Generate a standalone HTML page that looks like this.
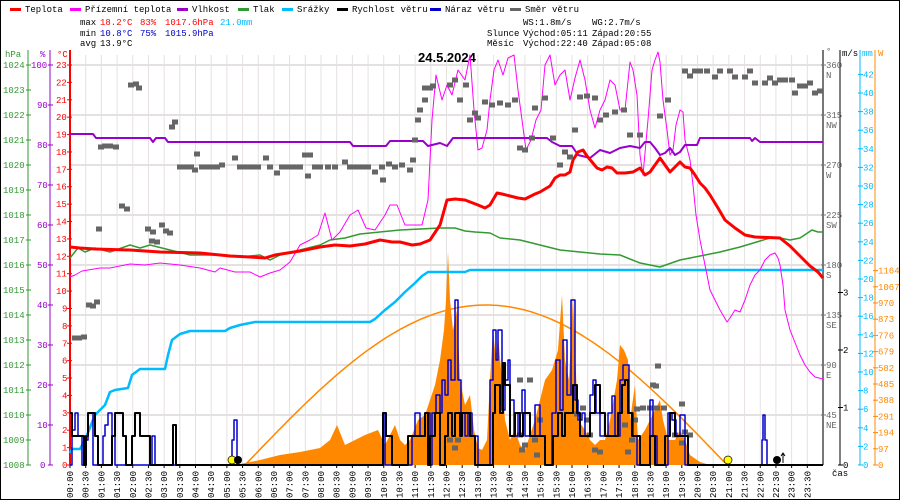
<!DOCTYPE html>
<html><head><meta charset="utf-8"><style>
html,body{margin:0;padding:0;background:#fff}
body{width:900px;height:500px;overflow:hidden}
svg{display:block}
text{font-family:"Liberation Mono",monospace;font-size:9px}
</style></head><body>
<svg id="s" width="900" height="500" xmlns="http://www.w3.org/2000/svg"></svg>
<script>
var o='';
function L(pts,c,w,extra){o+='<polyline fill="none" stroke="'+c+'" stroke-width="'+w+'" stroke-linejoin="round" '+(extra||'')+' points="'+pts.map(p=>p.join(',')).join(' ')+'"/>';}
function T(x,y,t,c,extra){o+='<text x="'+x+'" y="'+y+'" fill="'+(c||'#000')+'" '+(extra||'')+'>'+t+'</text>';}
function step(pts){var r=[];for(var i=0;i<pts.length;i++){if(i>0)r.push([pts[i][0],pts[i-1][1]]);r.push(pts[i]);}return r;}
o+='<rect x="0.5" y="0.5" width="899" height="499" fill="#fff" stroke="#000"/>';
// grid
for(var i=0;i<=48;i++){var x=70+i*753/48;o+='<line x1="'+x+'" y1="55" x2="'+x+'" y2="465" stroke="#e6e1e1"/>';}
for(var y=65;y<465;y+=50)o+='<line x1="70" y1="'+y+'" x2="823" y2="'+y+'" stroke="#e6e1e1" stroke-width="2"/>';
// legend
var lg=[[10,'Teplota','#f00'],[70,'Přízemní teplota','#f0f'],[177,'Vlhkost','#90c'],[238,'Tlak','#393'],[282,'Srážky','#0bf'],[337,'Rychlost větru','#000'],[430,'Náraz větru','#00c'],[510,'Směr větru','#666']];
lg.forEach(function(a){o+='<rect x="'+a[0]+'" y="8" width="11" height="3" fill="'+a[2]+'"/>';T(a[0]+15,12,a[1]);});
T(80,25,'max');T(100,25,'18.2°C','#f00');T(140,25,'83%','#f00');T(165,25,'1017.6hPa','#f00');T(220,25,'21.0mm','#0bf');
T(80,36,'min');T(100,36,'10.8°C','#00c');T(140,36,'75%','#00c');T(165,36,'1015.9hPa','#00c');
T(80,46,'avg');T(100,46,'13.9°C');
T(523,25,'WS:1.8m/s');T(592,25,'WG:2.7m/s');
T(487,36,'Slunce');T(523,36,'Východ:05:11');T(592,36,'Západ:20:55');
T(487,46,'Měsíc');T(523,46,'Východ:22:40');T(592,46,'Západ:05:08');
o+='<text x="418" y="62" style="font-size:13px;font-weight:bold;font-family:Liberation Sans,sans-serif">24.5.2024</text>';
// left axes
o+='<line x1="28" y1="50" x2="28" y2="465" stroke="#393"/><line x1="50" y1="50" x2="50" y2="465" stroke="#90c"/><line x1="70" y1="50" x2="70" y2="465" stroke="#f00" stroke-width="2"/>';
T(5,57,'hPa','#393');T(40,57,'%','#90c');T(57,57,'°C','#f00');
for(var p=1024;p>=1008;p--){var y=465-(p-1008)*25;T(3,y+3,p,'#393');o+='<line x1="26" y1="'+y+'" x2="31" y2="'+y+'" stroke="#393"/>';}
for(var h=100;h>=0;h-=10){var y=465-h*4;T(h==100?31:(h==0?40:37),y+3,h,'#90c');o+='<line x1="48" y1="'+y+'" x2="53" y2="'+y+'" stroke="#90c"/>';}
for(var t=23;t>=0;t--){var y=465-t*400/23;T(t>9?56:62,y+3,t,'#f00');o+='<line x1="67" y1="'+y+'" x2="72" y2="'+y+'" stroke="#f00"/>';}
// right axes
o+='<line x1="823" y1="50" x2="823" y2="465" stroke="#777" stroke-width="2"/><line x1="840" y1="50" x2="840" y2="465" stroke="#000"/><line x1="860" y1="50" x2="860" y2="465" stroke="#0bf"/><line x1="875" y1="50" x2="875" y2="465" stroke="#f80"/>';
T(826,54,'°','#666');T(842,56,'m/s');T(862,56,'mm','#0bf');T(878,56,'W','#f80');
var dn=['','NE','E','SE','S','SW','W','NW','N'];
for(var d=1;d<=8;d++){var y=465-d*50;T(826,y+3,d*45,'#666');T(826,y+13,dn[d],'#666');o+='<line x1="821" y1="'+y+'" x2="826" y2="'+y+'" stroke="#777"/>';}
for(var v=0;v<=3;v++){var y=465-v*57.5;T(843,y+3,v);o+='<line x1="838" y1="'+y+'" x2="843" y2="'+y+'" stroke="#000"/>';}
for(var m=0;m<=42;m+=2){var y=465-m*9.3;if(y<60)continue;T(863,y+3,m,'#0bf');o+='<line x1="858" y1="'+y+'" x2="863" y2="'+y+'" stroke="#0bf"/>';}
for(var k=0;k<=12;k++){var y=465-k*16.2;T(878,y+3,k*97,'#f80');o+='<line x1="873" y1="'+y+'" x2="878" y2="'+y+'" stroke="#f80"/>';}
// time labels
for(var i=0;i<48;i++){var x=70+i*753/48;var hh=Math.floor(i/2),mm=i%2?'30':'00';var s=(hh<10?'0':'')+hh+':'+mm;
o+='<line x1="'+x+'" y1="465" x2="'+x+'" y2="468" stroke="#000"/>';
o+='<text transform="translate('+(x+3)+',471) rotate(-90)" text-anchor="end">'+s+'</text>';}
T(832,476,'čas');
// radiation fill
var rad=[[70,465],[235,465],[245,463],[260,460],[280,455],[300,452],[320,448],[330,440],[337,425],[345,445],[355,440],[365,435],[378,430],[385,445],[395,425],[400,440],[405,445],[410,440],[418,420],[425,415],[430,400],[435,385],[440,360],[444,330],[446,300],[448,252],[450,300],[453,330],[457,310],[460,380],[465,405],[470,395],[474,430],[478,448],[482,450],[487,440],[490,380],[493,330],[496,360],[498,335],[502,380],[505,420],[510,440],[515,430],[520,445],[525,450],[535,420],[545,380],[552,370],[558,350],[562,295],[565,360],[569,380],[573,295],[575,350],[578,420],[585,430],[590,440],[595,445],[600,440],[605,440],[610,420],[617,380],[620,345],[624,350],[628,360],[630,420],[635,385],[638,440],[645,430],[650,420],[655,410],[660,400],[663,420],[668,440],[675,440],[680,430],[685,440],[690,455],[700,462],[710,465]];
o+='<polygon fill="#f80" points="'+rad.map(p=>p.join(',')).join(' ')+'"/>';
// theoretical radiation curve
var th=[];for(var x=245;x<=727;x+=4)th.push([x,(465-160*Math.sin(Math.PI*(x-245)/482)).toFixed(1)]);L(th,'#f80',1.5);
// rain
L([[70,453],[72,449],[80,449],[85,440],[95,415],[105,405],[110,392],[115,390],[128,388],[132,375],[140,369],[165,369],[168,355],[172,340],[180,334],[190,331],[225,331],[230,328],[240,325],[255,322],[370,322],[375,319],[385,310],[395,302],[405,292],[415,283],[422,276],[428,272],[465,272],[470,270],[823,270]],'#0bf',2.5);
// pressure
L([[70,258],[78,248],[85,252],[95,248],[110,252],[130,245],[140,248],[150,245],[170,250],[190,255],[220,255],[240,257],[260,255],[270,260],[280,255],[300,250],[320,245],[330,240],[345,238],[360,234],[380,232],[400,230],[420,229],[440,228],[455,228],[465,231],[475,232],[490,233],[500,238],[520,240],[540,245],[560,250],[580,252],[600,254],[620,255],[640,263],[660,267],[680,260],[700,256],[720,252],[740,247],[760,241],[770,238],[780,238],[790,240],[800,238],[812,230],[818,232],[823,232]],'#393',1.5);
// apparent temp
L([[70,277],[75,275],[82,271],[100,268],[110,268],[130,264],[145,265],[160,263],[180,265],[200,268],[215,272],[220,268],[235,272],[250,272],[260,277],[270,273],[280,270],[290,262],[300,245],[310,240],[318,235],[325,213],[332,240],[340,232],[350,215],[358,210],[366,228],[375,230],[385,215],[390,205],[397,205],[405,225],[415,225],[422,225],[428,200],[432,120],[436,75],[442,100],[447,85],[452,95],[458,70],[465,80],[470,55],[474,110],[478,150],[482,148],[487,130],[490,100],[494,70],[498,60],[503,75],[508,58],[514,55],[518,90],[522,120],[526,150],[531,140],[536,120],[541,110],[545,65],[550,55],[555,85],[560,75],[565,70],[570,100],[575,78],[580,60],[585,80],[590,110],[595,128],[600,110],[605,100],[610,80],[615,85],[620,110],[625,110],[630,62],[633,70],[637,95],[640,155],[643,175],[648,120],[652,70],[655,60],[658,52],[660,62],[663,100],[667,130],[670,155],[673,150],[676,125],[680,110],[683,112],[685,140],[690,160],[693,185],[696,215],[700,240],[710,290],[720,310],[727,322],[730,318],[735,310],[740,312],[745,300],[750,285],[755,275],[760,270],[765,260],[770,255],[775,253],[778,258],[780,265],[783,285],[785,310],[790,330],[800,355],[805,365],[810,372],[815,377],[823,379]],'#f0f',1);
// humidity
L([[70,134],[93,134],[96,138],[150,138],[153,142],[156,138],[165,138],[168,142],[350,142],[353,146],[386,146],[390,141],[423,141],[428,146],[440,143],[447,146],[453,138],[547,138],[552,142],[560,146],[572,146],[578,155],[590,158],[600,150],[610,153],[620,148],[630,146],[640,148],[645,142],[650,142],[655,148],[660,155],[665,153],[670,148],[675,155],[680,152],[685,145],[697,145],[700,138],[750,138],[752,141],[755,138],[760,142],[823,142]],'#90c',2);
// temperature
L([[70,247],[80,248],[95,249],[130,250],[160,252],[200,253],[230,256],[250,257],[265,258],[275,255],[300,251],[320,247],[335,245],[350,246],[365,244],[380,240],[392,242],[400,242],[412,245],[420,244],[430,240],[440,225],[447,200],[455,199],[465,200],[478,205],[485,208],[490,205],[497,193],[502,194],[510,196],[518,198],[525,199],[535,194],[540,192],[550,186],[555,178],[560,175],[565,175],[570,172],[573,160],[578,152],[583,150],[587,156],[592,162],[597,168],[602,170],[607,167],[612,168],[617,173],[625,173],[633,172],[640,168],[645,175],[650,172],[655,165],[660,158],[665,165],[670,172],[675,167],[680,162],[685,167],[690,168],[695,175],[700,183],[705,188],[710,195],[718,208],[725,220],[735,228],[745,235],[755,237],[780,238],[790,246],[800,256],[810,266],[818,272],[823,278]],'#f00',3);
// wind direction squares
var sq=[[75,338],[79,338],[84,337],[89,305],[93,306],[97,302],[99,229],[101,147],[105,146],[110,146],[116,147],[122,206],[127,209],[131,85],[136,84],[139,88],[148,229],[153,232],[152,241],[157,242],[162,225],[166,231],[170,233],[172,127],[175,122],[180,167],[186,167],[191,167],[195,170],[197,154],[202,167],[207,167],[212,167],[217,167],[222,165],[235,158],[240,167],[246,167],[252,167],[258,167],[266,158],[270,167],[277,173],[282,167],[288,167],[294,167],[300,167],[305,155],[310,155],[308,176],[315,167],[320,167],[328,167],[335,167],[345,162],[350,167],[356,167],[362,167],[368,167],[375,172],[382,167],[383,180],[389,164],[395,167],[402,165],[410,170],[413,160],[418,120],[420,110],[425,88],[430,88],[433,86],[425,100],[415,140],[450,85],[455,80],[460,100],[466,85],[470,120],[475,113],[478,118],[485,102],[492,105],[500,103],[508,105],[515,100],[520,148],[525,150],[532,138],[535,108],[545,98],[553,138],[560,165],[565,152],[570,157],[575,130],[580,97],[587,96],[595,98],[600,120],[606,115],[615,112],[624,110],[630,135],[640,135],[660,116],[668,100],[685,71],[690,76],[695,71],[700,71],[707,71],[715,77],[720,71],[730,71],[735,77],[745,77],[750,71],[755,83],[765,83],[770,78],[775,83],[780,80],[785,80],[792,80],[795,93],[800,86],[805,86],[810,83],[815,93],[820,91],
[658,366],[653,385],[656,386],[637,409],[643,408],[650,408],[657,408],[664,408],[682,404],[675,435],[685,432],[690,435],[682,443],[635,420],[632,440],[628,452],[625,425],[587,420],[590,435],[595,450],[600,452],[577,414],[583,408],[540,420],[535,440],[537,455],[520,435],[522,450],[525,445],[450,440],[455,448],[458,440],[530,380],[520,380]];
sq.forEach(function(p){o+='<rect x="'+(p[0]-3)+'" y="'+(p[1]-2.5)+'" width="6" height="5" fill="#666"/>';});
// wind gust
L(step([[70,465],[72,430],[75,413],[78,436],[82,465],[86,440],[88,413],[90,413],[93,465],[100,465],[103,436],[105,425],[108,413],[112,436],[115,465],[150,465],[152,436],[155,465],[230,465],[232,440],[234,420],[237,465],[380,465],[383,413],[385,465],[410,465],[412,436],[415,413],[420,436],[425,413],[430,465],[432,413],[436,395],[440,413],[442,380],[445,395],[448,360],[451,380],[455,300],[458,380],[461,413],[465,436],[468,413],[472,436],[478,465],[488,465],[490,380],[493,330],[496,360],[498,330],[502,410],[505,380],[508,360],[510,400],[514,436],[518,413],[522,390],[525,436],[530,436],[535,405],[540,436],[545,465],[548,465],[552,413],[556,360],[560,410],[563,340],[567,395],[571,300],[575,400],[578,420],[582,413],[585,436],[590,395],[593,380],[596,413],[600,436],[605,436],[608,413],[612,396],[615,436],[620,380],[623,365],[626,365],[629,413],[633,436],[637,465],[648,465],[650,400],[653,436],[657,465],[668,413],[672,420],[676,436],[680,415],[685,465],[760,465],[762,440],[763,415],[765,440],[767,465],[823,465]]),'#00c',1.5);
// wind speed
L(step([[70,413],[72,436],[82,436],[84,465],[86,436],[88,413],[92,413],[95,436],[98,465],[110,465],[112,436],[115,413],[120,413],[123,436],[126,465],[130,465],[132,436],[135,413],[140,436],[148,436],[150,465],[170,465],[173,425],[176,465],[380,465],[383,413],[386,436],[392,465],[405,465],[408,436],[420,436],[425,413],[428,465],[430,436],[435,413],[440,465],[445,436],[448,413],[452,436],[455,413],[460,436],[462,413],[468,413],[470,436],[475,465],[490,465],[493,413],[495,385],[500,413],[503,363],[505,385],[510,436],[515,413],[520,436],[523,413],[530,436],[540,436],[545,465],[550,465],[553,436],[558,413],[562,436],[565,413],[570,413],[573,385],[577,413],[580,436],[585,436],[590,413],[595,385],[600,413],[605,436],[615,436],[618,413],[622,385],[625,380],[628,413],[632,436],[635,436],[640,465],[645,465],[650,436],[655,465],[665,436],[670,413],[675,436],[683,436],[688,465],[823,465]]),'#000',2);
// sun/moon
o+='<circle cx="232" cy="460" r="4" fill="#ff0" stroke="#000" stroke-width="0.7"/><circle cx="238" cy="460" r="4" fill="#000"/>';
o+='<circle cx="728" cy="460" r="4" fill="#ff0" stroke="#000" stroke-width="0.7"/><circle cx="777" cy="460" r="4" fill="#000"/><path d="M783 463 V453 M781 456 L783 453 L785 456" stroke="#000" fill="none"/>';
document.getElementById('s').innerHTML=o;
</script>
</body></html>
